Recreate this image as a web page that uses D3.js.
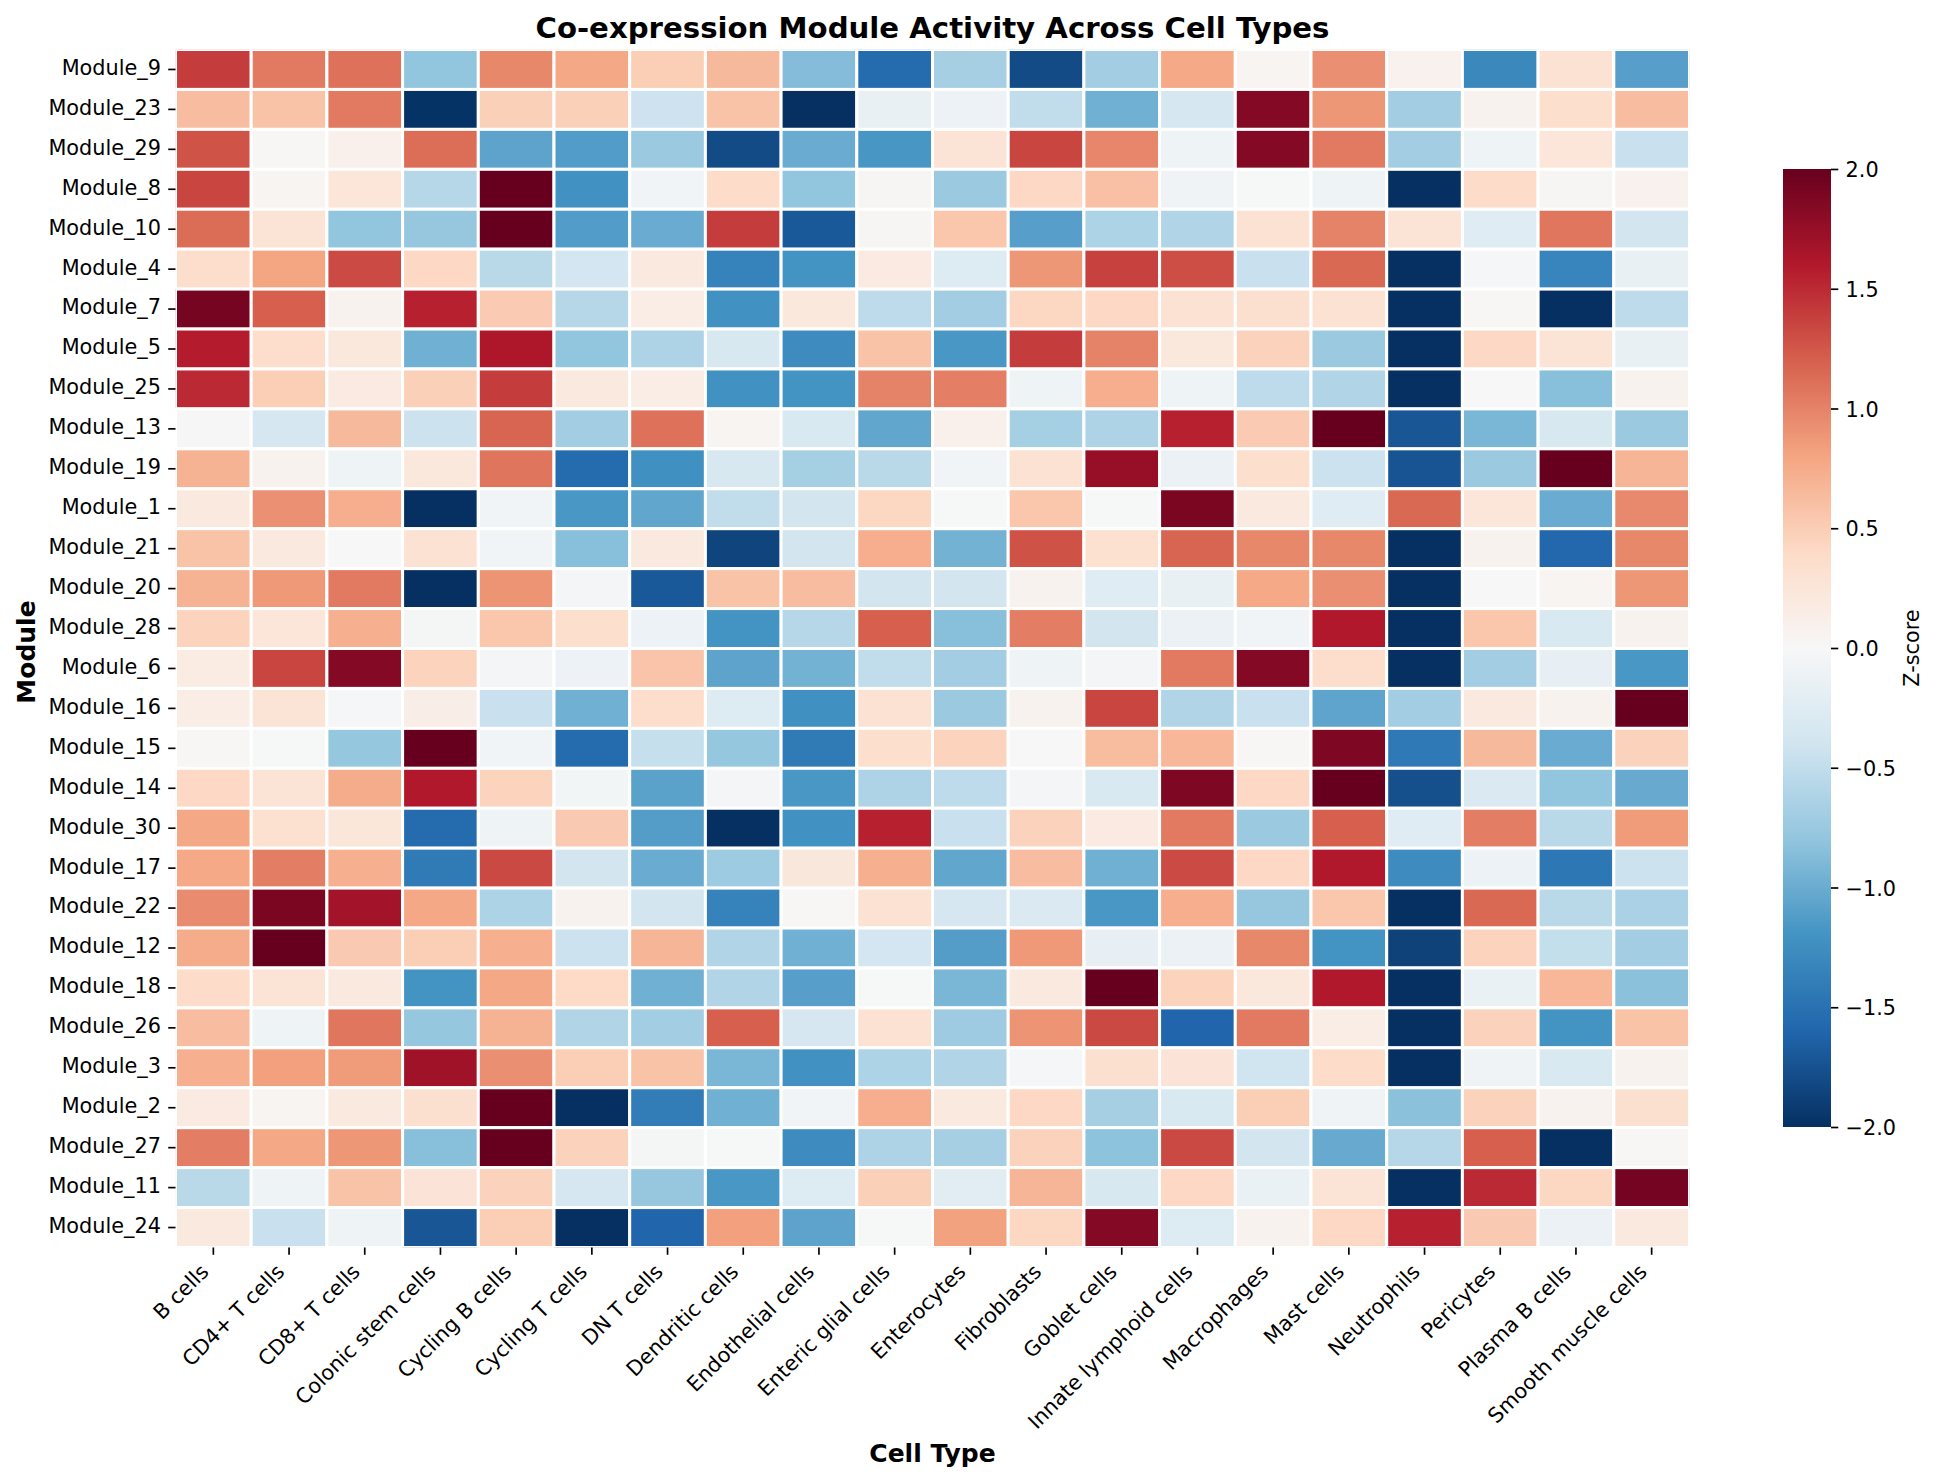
<!DOCTYPE html>
<html><head><meta charset="utf-8">
<style>html,body{margin:0;padding:0;background:#fff}svg{display:block}text{font-family:"DejaVu Sans",sans-serif;fill:#000}</style>
<script src="https://cdn.jsdelivr.net/npm/d3@7/dist/d3.min.js"></script>
</head><body><svg id="c" width="1939" height="1481"></svg>
<script>
const modules = ["Module_9","Module_23","Module_29","Module_8","Module_10","Module_4","Module_7","Module_5","Module_25","Module_13","Module_19","Module_1","Module_21","Module_20","Module_28","Module_6","Module_16","Module_15","Module_14","Module_30","Module_17","Module_22","Module_12","Module_18","Module_26","Module_3","Module_2","Module_27","Module_11","Module_24"];
const cellTypes = ["B cells","CD4+ T cells","CD8+ T cells","Colonic stem cells","Cycling B cells","Cycling T cells","DN T cells","Dendritic cells","Endothelial cells","Enteric glial cells","Enterocytes","Fibroblasts","Goblet cells","Innate lymphoid cells","Macrophages","Mast cells","Neutrophils","Pericytes","Plasma B cells","Smooth muscle cells"];
const zscores = [
[1.4,1.05,1.1,-.8,.97,.78,.5,.65,-.87,-1.55,-.67,-1.8,-.7,.77,.05,.93,.08,-1.3,.3,-1.1],
[.62,.58,1.05,-1.98,.48,.48,-.42,.58,-2,-.15,-.12,-.5,-.97,-.35,1.85,.88,-.7,.07,.35,.62],
[1.27,.02,.1,1.12,-1.07,-1.13,-.75,-1.8,-1,-1.18,.28,1.35,.98,-.1,1.85,1.05,-.7,-.1,.25,-.45],
[1.35,.05,.25,-.57,2,-1.22,-.07,.38,-.8,.03,-.75,.42,.6,-.08,-.01,-.1,-2,.38,.03,.08],
[1.13,.28,-.8,-.77,2,-1.13,-1,1.4,-1.7,.03,.55,-1.1,-.63,-.6,.3,1,.28,-.25,1.07,-.38],
[.37,.8,1.32,.42,-.55,-.37,.2,-1.35,-1.2,.18,-.27,.88,1.37,1.3,-.45,1.15,-2,-.02,-1.33,-.15],
[1.92,1.2,.07,1.55,.52,-.57,.15,-1.22,.22,-.53,-.7,.43,.42,.3,.33,.3,-2,.02,-2,-.52],
[1.58,.37,.22,-.97,1.62,-.8,-.62,-.33,-1.27,.58,-1.17,1.4,1,.22,.47,-.75,-2,.42,.28,-.15],
[1.5,.5,.18,.48,1.4,.2,.15,-1.22,-1.2,1,1.02,-.1,.73,-.1,-.52,-.6,-2,0,-.85,.07],
[.01,-.35,.65,-.43,1.17,-.7,1.1,.05,-.32,-1.05,.1,-.68,-.62,1.55,.52,2,-1.72,-.92,-.33,-.75],
[.7,.07,-.1,.22,1.08,-1.55,-1.23,-.33,-.68,-.55,-.07,.3,1.75,-.13,.35,-.43,-1.73,-.75,2,.68],
[.2,.92,.73,-2,-.07,-1.17,-1.05,-.5,-.38,.43,-.01,.55,-.01,1.9,.2,-.25,1.15,.25,-1,.96],
[.58,.2,0,.3,-.07,-.85,.2,-1.85,-.38,.73,-.95,1.28,.32,1.17,.97,.97,-2,.07,-1.58,.97],
[.7,.87,1.05,-2,.9,-.04,-1.7,.58,.62,-.38,-.38,.07,-.25,-.15,.77,.93,-2,0,.05,.88],
[.45,.25,.72,-.03,.55,.35,-.12,-1.2,-.58,1.2,-.85,1.03,-.38,-.13,-.06,1.6,-2,.55,-.32,.07],
[.17,1.35,1.85,.45,-.04,-.12,.57,-1.07,-.95,-.5,-.7,-.09,-.04,1.05,1.85,.37,-2,-.7,-.17,-1.17],
[.15,.28,-.02,.13,-.45,-.97,.37,-.27,-1.23,.3,-.75,.07,1.35,-.6,-.45,-1.06,-.7,.2,.07,2],
[.02,-.01,-.78,2,-.06,-1.55,-.47,-.78,-1.42,.35,.45,0,.63,.67,.02,1.88,-1.43,.65,-1,.47],
[.42,.28,.75,1.6,.45,-.05,-1.08,-.04,-1.17,-.62,-.52,-.04,-.32,1.88,.42,2,-1.77,-.3,-.8,-1.02],
[.78,.32,.24,-1.55,-.1,.53,-1.12,-2,-1.22,1.55,-.45,.47,.18,1.05,-.75,1.2,-.25,1.03,-.55,.85],
[.77,1.03,.72,-1.42,1.33,-.38,-1,-.73,.23,.72,-1.05,.62,-.97,1.32,.42,1.6,-1.27,-.12,-1.45,-.43],
[.95,1.9,1.68,.78,-.63,.07,-.38,-1.35,.02,.3,-.35,-.3,-1.17,.73,-.77,.55,-2,1.15,-.55,-.65],
[.75,2,.53,.5,.72,-.43,.68,-.6,-.97,-.37,-1.12,.87,-.17,-.13,.97,-1.2,-1.87,.45,-.48,-.7],
[.38,.28,.2,-1.2,.78,.4,-.97,-.6,-1.1,-.01,-.92,.2,2,.45,.22,1.6,-2,-.14,.67,-.83],
[.62,-.1,1.07,-.78,.7,-.6,-.7,1.2,-.35,.3,-.72,.9,1.33,-1.6,1.05,.15,-2,.47,-1.2,.58],
[.72,.83,.85,1.7,.93,.5,.58,-.92,-1.22,-.63,-.6,-.02,.33,.27,-.4,.38,-2,-.08,-.32,.07],
[.18,.04,.2,.33,2,-2,-1.4,-.97,-.07,.73,.2,.42,-.67,-.32,.5,-.08,-.83,.47,.07,.33],
[1.03,.78,.88,-.85,2,.47,-.03,-.01,-1.27,-.62,-.67,.47,-.82,1.33,-.38,-1.02,-.58,1.2,-2,.02],
[-.55,-.1,.58,.27,.47,-.35,-.77,-1.17,-.27,.48,-.23,.68,-.33,.42,-.14,.28,-2,1.5,.43,1.93],
[.2,-.45,-.09,-1.72,.5,-2,-1.6,.83,-1.07,-.01,.82,.43,1.85,-.27,.07,.42,1.55,.53,-.13,.2]
];
const cbTicks = [-2,-1.5,-1,-.5,0,.5,1,1.5,2];
const rdbuR = ["#053061","#2166ac","#4393c3","#92c5de","#d1e5f0","#f7f7f7","#fddbc7","#f4a582","#d6604d","#b2182b","#67001f"];

const L=175.5,R=1689.5,T=49.5,B=1247.5, tick=7.3,pad=7.3,fs=20.8;
const svg=d3.select("#c");
const x=d3.scaleBand().domain(cellTypes).range([L,R]);
const y=d3.scaleBand().domain(modules).range([T,B]);
const color=d3.scaleLinear().domain(d3.range(11).map(i=>-2+i*.4)).range(rdbuR).clamp(true);

const defs=svg.append("defs");
defs.append("clipPath").attr("id","ax").append("rect").attr("x",L).attr("y",T).attr("width",R-L).attr("height",B-T);
const cells=modules.flatMap((m,i)=>cellTypes.map((c,j)=>({m,c,v:zscores[i][j]})));
svg.append("g").attr("clip-path","url(#ax)").selectAll("rect").data(cells).join("rect")
  .attr("x",d=>x(d.c)).attr("y",d=>y(d.m)).attr("width",x.bandwidth()).attr("height",y.bandwidth())
  .attr("fill",d=>color(d.v)).attr("stroke","#fff").attr("stroke-width",3);

function style(g){g.select(".domain").remove();g.selectAll(".tick line").attr("stroke","#000").attr("stroke-width",1.67);g.selectAll(".tick text").style("font-size",fs+"px").style("font-family",'"DejaVu Sans",sans-serif').attr("fill","#000");}
const gx=svg.append("g").attr("transform",`translate(0,${B})`).call(d3.axisBottom(x).tickSize(tick).tickSizeOuter(0)).call(style);
gx.selectAll(".tick text").attr("text-anchor","end").attr("dy",null).attr("x",-3.5).attr("y",25.5).attr("transform",function(){return "rotate(-45 -3.5 25.5)";});
const gy=svg.append("g").attr("transform",`translate(${L},0)`).call(d3.axisLeft(y).tickSize(tick).tickPadding(pad).tickSizeOuter(0)).call(style);
gy.selectAll(".tick text").attr("dy",".26em");

svg.append("text").attr("x",(L+R)/2).attr("y",38).attr("text-anchor","middle").style("font-size","29.2px").style("font-weight","bold").text("Co-expression Module Activity Across Cell Types");
svg.append("text").attr("x",(L+R)/2).attr("y",1462).attr("text-anchor","middle").style("font-size","25px").style("font-weight","bold").text("Cell Type");
svg.append("text").attr("transform",`translate(35,652) rotate(-90)`).attr("text-anchor","middle").style("font-size","25px").style("font-weight","bold").text("Module");

const cbX=1783,cbW=48,cbT=169,cbB=1127;
const cy=d3.scaleLinear().domain([-2,2]).range([cbB,cbT]);
const gr=defs.append("linearGradient").attr("id","cb").attr("x1",0).attr("y1",1).attr("x2",0).attr("y2",0);
rdbuR.forEach((c,i)=>gr.append("stop").attr("offset",i/10).attr("stop-color",c));
svg.append("rect").attr("x",cbX).attr("y",cbT).attr("width",cbW).attr("height",cbB-cbT).attr("fill","url(#cb)");
const gc=svg.append("g").attr("transform",`translate(${cbX+cbW},0)`).call(d3.axisRight(cy).tickValues(cbTicks).tickSize(tick).tickPadding(pad).tickFormat(d=>d3.format(".1f")(d).replace("-","\u2212")).tickSizeOuter(0)).call(style);
gc.selectAll(".tick text").attr("dy",".365em");
svg.append("text").attr("transform",`translate(1919,${(cbT+cbB)/2}) rotate(-90)`).attr("text-anchor","middle").style("font-size",fs+"px").text("Z-score");
</script></body></html>
